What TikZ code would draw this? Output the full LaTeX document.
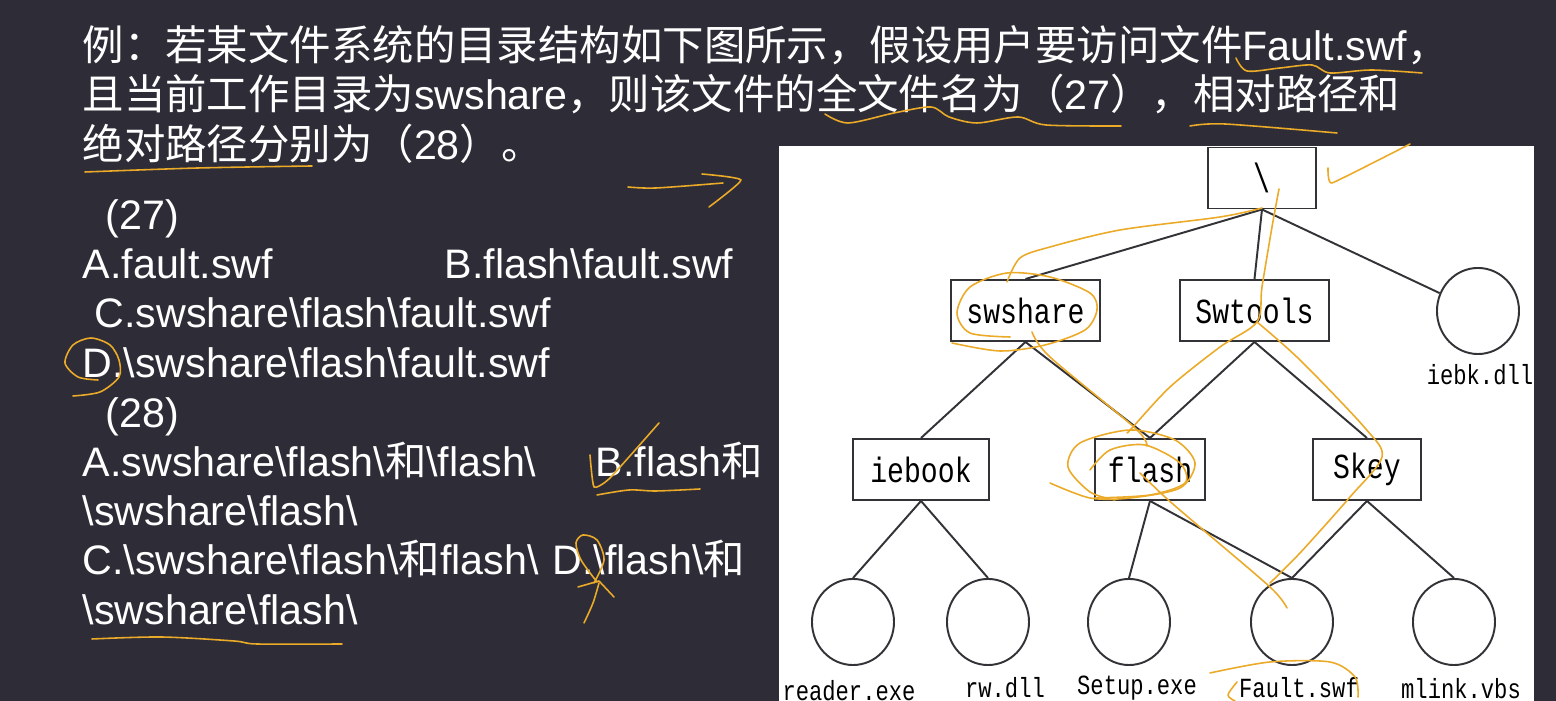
\documentclass[tikz,border=0pt]{standalone}
\usepackage{fontspec}
\usepackage{graphicx}
\usetikzlibrary{positioning, shapes.geometric}
\setmainfont{Liberation Sans}
\newfontfamily\zh[Scale=1.005]{Noto Sans CJK SC}
\newfontfamily\treefont{Liberation Mono}
\definecolor{slate}{RGB}{46,45,55}
\definecolor{ink}{RGB}{235,170,40}
\definecolor{treeline}{RGB}{50,50,55}
\newcommand{\bs}{\textbackslash}
\newcommand{\tall}[1]{\scalebox{1}[1.25]{#1}}
\tikzset{
	pagetext/.style={anchor=base west, inner sep=0pt, text=white, font=\fontsize{11.72pt}{14pt}\selectfont},
	dirbox/.style={draw=treeline, fill=white, line width=0.55pt, inner sep=0pt, minimum height=0.61cm, font=\treefont\fontsize{8pt}{9pt}\selectfont, text=black},
	filecircle/.style={draw=treeline, ellipse, line width=0.55pt, inner sep=0pt, minimum width=0.82cm, minimum height=0.86cm},
	filename/.style={inner sep=0pt, font=\treefont\fontsize{6.3pt}{7pt}\selectfont, text=black},
	treeedge/.style={treeline, line width=0.55pt},
	pen/.style={ink, line width=0.45pt, line cap=round, line join=round}
}
\begin{document}
\begin{tikzpicture}[x=0.01cm, y=-0.01cm]
		\useasboundingbox (0,0) rectangle (1556,701);
		\fill [slate] (0,0) rectangle (1556,701);
		\fill [white] (779,146) rectangle (1534,701);

		\node [pagetext] (stemone) at (82,61) {{\zh 例：若某文件系统的目录结构如下图所示，假设用户要访问文件}Fault.swf{\zh ，}};
		\node [pagetext] (stemtwo) at (82,110) {{\zh 且当前工作目录为}swshare{\zh ，则该文件的全文件名为（}27{\zh ），相对路径和}};
		\node [pagetext] (stemthree) at (82,160) {{\zh 绝对路径分别为（}28{\zh ）。}};
		\node [pagetext] (headone) at (105,230) {(27)};
		\node [pagetext] (optoneA) at (82,279) {A.fault.swf};
		\node [pagetext] (optoneB) at (444,279) {B.flash\bs{}fault.swf};
		\node [pagetext] (optoneC) at (94,328) {C.swshare\bs{}flash\bs{}fault.swf};
		\node [pagetext] (optoneD) at (82,378) {D.\bs{}swshare\bs{}flash\bs{}fault.swf};
		\node [pagetext] (headtwo) at (105,428) {(28)};
		\node [pagetext] (opttwoA) at (82,477) {A.swshare\bs{}flash\bs{}{\zh 和}\bs{}flash\bs};
		\node [pagetext] (opttwoB) at (595,477) {B.flash{\zh 和}};
		\node [pagetext] (opttwoBb) at (82,526) {\bs{}swshare\bs{}flash\bs};
		\node [pagetext] (opttwoC) at (82,575) {C.\bs{}swshare\bs{}flash\bs{}{\zh 和}flash\bs};
		\node [pagetext] (opttwoD) at (552,575) {D.\bs{}flash\bs{}{\zh 和}};
		\node [pagetext] (opttwoDb) at (82,625) {\bs{}swshare\bs{}flash\bs};

		\node [dirbox, minimum width=1.08cm] (root) at (1262,178) {\scalebox{1}[1.45]{\bs}};
		\node [dirbox, minimum width=1.49cm] (swshare) at (1025.5,310.5) {\tall{swshare}};
		\node [dirbox, minimum width=1.49cm] (swtools) at (1254.5,310.5) {\tall{Swtools}};
		\node [dirbox, minimum width=1.36cm] (iebook) at (921,469.5) {\tall{iebook}};
		\node [dirbox, minimum width=1.10cm] (flash) at (1150,469.5) {\tall{flash}};
		\node [dirbox, minimum width=1.08cm] (skey) at (1367,469.5) {\tall{Skey}};
		\node [filecircle] (iebk) at (1478,311) {};
		\foreach \name/\x in {reader/853, rw/988, setup/1129, fault/1292, mlink/1454}{
			\node [filecircle] (\name) at (\x,622) {};
		}
		\node [filename] (iebklabel) at (1480,375) {\tall{iebk.dll}};
		\node [filename] (readerlabel) at (849,691) {\tall{reader.exe}};
		\node [filename] (rwlabel) at (1005,688) {\tall{rw.dll}};
		\node [filename] (setuplabel) at (1137,688) {\tall{Setup.exe}};
		\node [filename] (faultlabel) at (1299,688) {\tall{Fault.swf}};
		\node [filename] (mlinklabel) at (1461,689) {\tall{mlink.vbs}};

		\draw [treeedge] (root.south) -- (swshare.north);
		\draw [treeedge] (root.south) -- (swtools.north);
		\draw [treeedge] (root.south) -- (iebk.155);
		\foreach \a/\b in {swshare/iebook, swshare/flash, swtools/flash, swtools/skey, iebook/reader, iebook/rw, flash/setup, flash/fault, skey/fault, skey/mlink}{
			\draw [treeedge] (\a.south) -- (\b.north);
		}

		\draw [pen] plot [smooth] coordinates {(1236,58) (1247,71) (1280,68) (1312,65) (1330,73) (1371,70) (1422,73)};
		\draw [pen] plot [smooth] coordinates {(825,114) (848,123) (894,113) (931,107) (949,117) (977,123) (1018,117) (1046,125) (1121,126)};
		\draw [pen] plot [smooth] coordinates {(1190,126) (1225,124) (1337,133)};
		\draw [pen] plot [smooth] coordinates {(85,172) (198,168) (312,166)};
		\draw [pen] plot [smooth] coordinates {(628,187) (656,188) (723,183)};
		\draw [pen] plot [smooth, tension=0.3] coordinates {(702,174) (741,180) (709,207)};
		\draw [pen] plot [smooth, tension=0.2] coordinates {(1328,168) (1332,183) (1410,144)};
		\draw [pen] plot [smooth] coordinates {(1262,208) (1220,217) (1120,230) (1050,247) (1020,258) (1007,282)};
		\draw [pen] plot [smooth] coordinates {(1010,337) (970,333) (957,313) (970,287) (1007,273) (1050,277) (1090,293) (1097,310) (1085,330) (1045,345) (1000,351) (952,343)};
		\draw [pen] plot [smooth] coordinates {(1032,332) (1050,357) (1135,428) (1147,446)};
		\draw [pen] plot [smooth] coordinates {(1050,483) (1090,498) (1130,498) (1180,488) (1195,463) (1175,440) (1130,430) (1080,443) (1068,467) (1090,492) (1115,500)};
		\draw [pen] plot [smooth] coordinates {(1090,470) (1110,450) (1145,445) (1180,463) (1185,483) (1150,495) (1095,498)};
		\draw [pen] plot [smooth] coordinates {(1279,189) (1272,227) (1262,287) (1257,322) (1220,347) (1170,387) (1132,428) (1127,433)};
		\draw [pen] plot [smooth] coordinates {(1257,322) (1300,360) (1365,428) (1382,457) (1350,497) (1300,553) (1270,583)};
		\draw [pen] plot [smooth] coordinates {(1140,473) (1165,497) (1195,523) (1270,587) (1287,608)};
		\draw [pen] plot [smooth] coordinates {(1210,673) (1270,662) (1330,662) (1355,677) (1358,697)};
		\draw [pen] plot [smooth] coordinates {(1237,682) (1228,695) (1235,701)};
		\draw [pen] plot [smooth] coordinates {(98,380) (78,377) (65,363) (73,345) (91,338) (110,345) (119,360) (119,377) (100,392) (73,396)};
		\draw [pen] plot [smooth, tension=0.3] coordinates {(590,455) (594,487) (610,478) (659,423)};
		\draw [pen] plot [smooth] coordinates {(597,495) (629,490) (656,491) (700,489)};
		\draw [pen] plot [smooth] coordinates {(597,582) (581,560) (576,543) (583,535) (597,540) (604,560) (594,583)};
		\draw [pen] plot [smooth] coordinates {(584,623) (593,603) (599,583)};
		\draw [pen] (578,587) -- (599,581) -- (614,597);
		\draw [pen] plot [smooth] coordinates {(92,639) (161,637) (234,641) (257,644) (342,644)};
	\end{tikzpicture}
\end{document}
